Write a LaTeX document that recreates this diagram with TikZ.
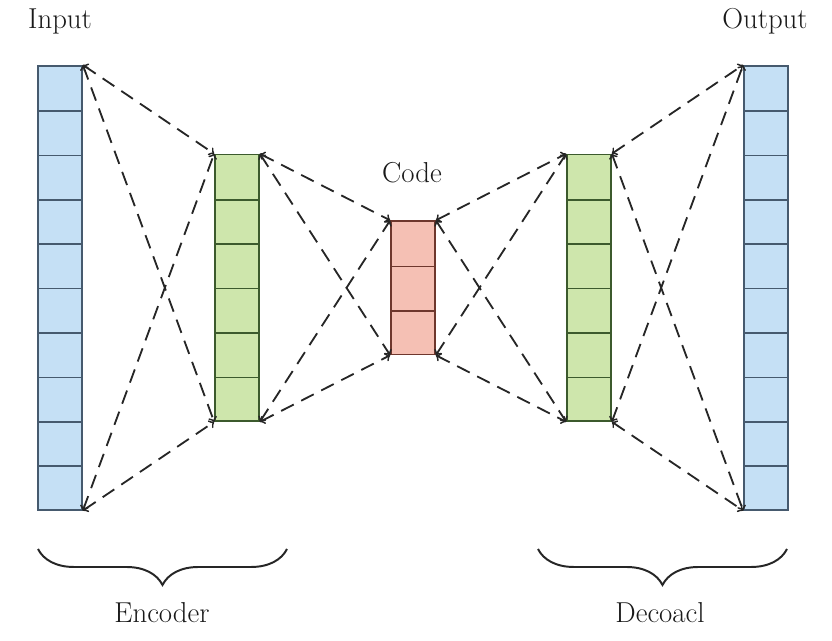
\documentclass[tikz,border=0pt]{standalone}
\usepackage{tikz}
\usetikzlibrary{decorations.pathreplacing}

\definecolor{inblue}{RGB}{197,224,245}
\definecolor{inedge}{RGB}{70,90,110}
\definecolor{hidgreen}{RGB}{206,230,172}
\definecolor{hidedge}{RGB}{60,90,45}
\definecolor{codered}{RGB}{245,192,180}
\definecolor{codeedge}{RGB}{110,55,45}

\tikzset{
  layer/.style={draw, line width=1.2pt, minimum width=1.1cm, inner sep=0pt},
  link/.style={<->, >=to, dash pattern=on 10pt off 6pt, line width=1.3pt, black!85},
  curly/.style={decorate, decoration={brace, mirror, amplitude=0.9cm}, line width=1.4pt, black!85},
  caption/.style={font=\fontsize{20.5}{24}\selectfont, text=black!90}
}

\begin{document}
\begin{tikzpicture}
\useasboundingbox (0,0) rectangle (20.8,16.025);

% Layers
\node[layer, draw=inedge, fill=inblue, minimum height=11.1cm] (in) at (1.5,8.83) {};
\node[layer, draw=hidedge, fill=hidgreen, minimum height=6.66cm] (enc) at (5.925,8.83) {};
\node[layer, draw=codeedge, fill=codered, minimum height=3.33cm] (code) at (10.325,8.83) {};
\node[layer, draw=hidedge, fill=hidgreen, minimum height=6.66cm] (dec) at (14.725,8.83) {};
\node[layer, draw=inedge, fill=inblue, minimum height=11.1cm] (out) at (19.15,8.83) {};

% Cells
\foreach \i in {1,...,9} {
  \draw[inedge, line width=1.2pt] (in.south west) ++(0,{\i*1.11}) -- ++(1.1,0);
  \draw[inedge, line width=1.2pt] (out.south west) ++(0,{\i*1.11}) -- ++(1.1,0);
}
\foreach \i in {1,...,5} {
  \draw[hidedge, line width=1.2pt] (enc.south west) ++(0,{\i*1.11}) -- ++(1.1,0);
  \draw[hidedge, line width=1.2pt] (dec.south west) ++(0,{\i*1.11}) -- ++(1.1,0);
}
\foreach \i in {1,2}
  \draw[codeedge, line width=1.2pt] (code.south west) ++(0,{\i*1.11}) -- ++(1.1,0);

% Connections
\foreach \a/\b in {in/enc, enc/code, code/dec, dec/out} {
  \draw[link] (\a.north east) -- (\b.north west);
  \draw[link] (\a.north east) -- (\b.south west);
  \draw[link] (\a.south east) -- (\b.north west);
  \draw[link] (\a.south east) -- (\b.south west);
}

% Labels
\node[caption] (inlabel) at (1.5,15.5) {Input};
\node[caption] (outlabel) at (19.125,15.5) {Output};
\node[caption] (codelabel) at (10.3,11.7) {Code};

% Braces
\coordinate (encl) at (0.95,2.3);
\coordinate (encr) at (7.175,2.3);
\coordinate (decl) at (13.45,2.3);
\coordinate (decr) at (19.675,2.3);
\draw[curly] (encl) -- (encr);
\draw[curly] (decl) -- (decr);
\node[caption] (enclabel) at (4.05,0.72) {Encoder};
\node[caption] (declabel) at (16.5,0.72) {Decoacl};
\end{tikzpicture}
\end{document}
